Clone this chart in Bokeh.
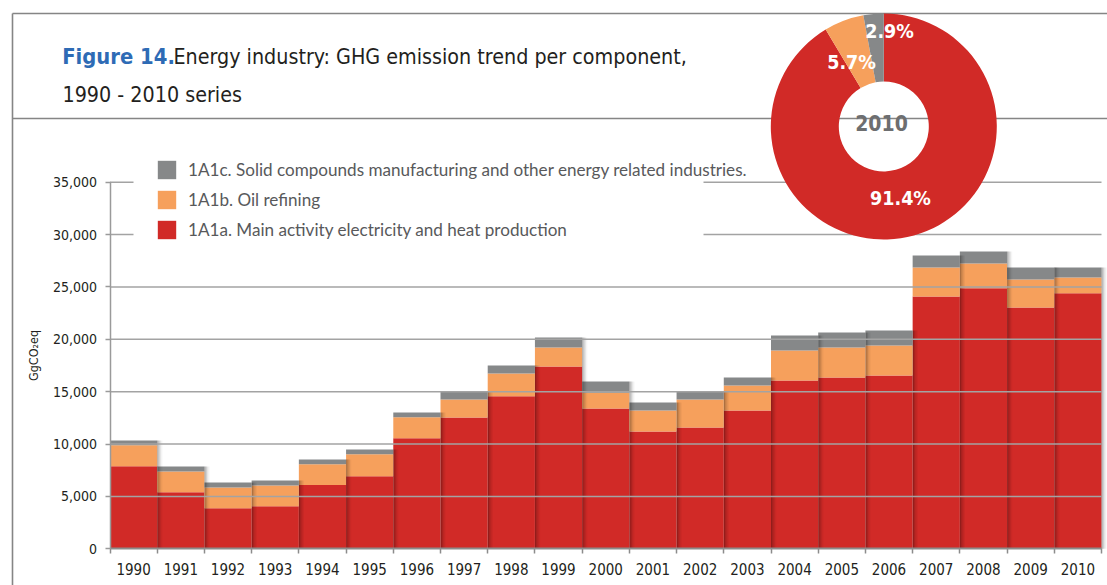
import math
from bokeh.plotting import figure
from bokeh.models import (Range1d, FixedTicker, NumeralTickFormatter, Legend,
                          LegendItem, Label, ColumnDataSource)
from bokeh.embed import file_html
from bokeh.resources import INLINE

# ---------------- data ----------------
years = [str(y) for y in range(1990, 2011)]
main_activity = [7890, 5410, 3880, 4070, 6080, 6930, 10550, 12540, 14570, 17400,
                 13390, 11200, 11580, 13200, 16070, 16350, 16540, 24090, 24880,
                 23040, 24400]
oil_refining = [2000, 1970, 1970, 1970, 2000, 2100, 2000, 1710, 2170, 1820,
                1500, 2000, 2670, 2390, 2860, 2870, 2870, 2760, 2360, 2670, 1500]
solid_other = [450, 480, 480, 480, 440, 450, 460, 770, 760, 950,
               1080, 770, 770, 760, 1430, 1430, 1430, 1150, 1140, 1140, 950]
series_labels = ["1A1a. Main activity electricity and heat production",
                 "1A1b. Oil refining",
                 "1A1c. Solid compounds manufacturing and other energy related industries."]
y_ticks = [0, 5000, 10000, 15000, 20000, 25000, 30000, 35000]
pie_year = "2010"
pie_shares = [91.4, 5.7, 2.9]          # main, oil, solid
pie_labels = ["91.4%", "5.7%", "2.9%"]

# ---------------- style ----------------
RED, ORANGE, GRAY = "#d12a27", "#f6a05c", "#868889"
colors = [RED, ORANGE, GRAY]
NARROW = "'Noto Sans Condensed', 'DejaVu Sans Condensed', Roboto"
DARK = "#231f20"

W, H = 1107, 585
SX = 991.5 / 21.0
X0 = -0.5 - 109.5 / SX
X1 = X0 + W / SX
SY = 366.6 / 35000.0
Y1 = 548.3 / SY
Y0 = Y1 - H / SY


def X(px):
    return X0 + px / SX


def Y(py):
    return Y1 - py / SY


p = figure(width=W, height=H, x_range=Range1d(X0, X1), y_range=Range1d(Y0, Y1),
           output_backend="svg", toolbar_location=None, min_border=0,
           min_border_left=0, min_border_right=0, min_border_top=0, min_border_bottom=0,
           outline_line_color=None, background_fill_color="white",
           border_fill_color="white")
p.xgrid.visible = False
p.ygrid.visible = False

idx = list(range(len(years)))
src = ColumnDataSource(dict(idx=idx, main=main_activity, oil=oil_refining, solid=solid_other))
rs = p.vbar_stack(["main", "oil", "solid"], x="idx", width=1.0, color=colors,
                  line_color=None, source=src)

# bar drop shadows (cast by each bar onto its right neighbour)
totals = [a + b + c for a, b, c in zip(main_activity, oil_refining, solid_other)]
strip = 1.3 / SX
for k, a in enumerate([0.30, 0.19, 0.10, 0.04]):
    p.quad(left=[i + 0.5 + k * strip for i in idx], right=[i + 0.5 + (k + 1) * strip for i in idx],
           bottom=[0] * len(idx), top=totals, fill_color="black", fill_alpha=a, line_color=None)

# grid lines drawn over the bars
gx0, gx1, gy = [], [], []
for t in y_ticks[1:]:
    if t <= 25000:
        gx0.append(-0.5); gx1.append(20.5); gy.append(t)
    else:
        gx0 += [-0.5, X(703)]; gx1 += [X(133), 20.5]; gy += [t, t]
p.segment(x0=gx0, x1=gx1, y0=gy, y1=gy, line_color="#a3a3a3", line_width=1.4)

# frame lines of the figure box
p.segment(x0=[X(12), X(12), X(12)], x1=[X1, X1, X(12)],
          y0=[Y(13), Y(118), Y(13)], y1=[Y(13), Y(118), Y0],
          line_color="#858585", line_width=1.6)

# axes
ya = p.yaxis[0]
ya.fixed_location = -0.5
ya.bounds = (0, 35000)
ya.ticker = FixedTicker(ticks=y_ticks, minor_ticks=[])
ya.formatter = NumeralTickFormatter(format="0,0")
ya.axis_line_color = "#9a9a9a"
ya.axis_line_width = 1.5
ya.major_tick_line_color = "#9a9a9a"
ya.major_tick_line_width = 1.5
ya.major_tick_out = 5
ya.major_tick_in = 0
ya.major_label_standoff = 8
ya.major_label_text_font = NARROW
ya.major_label_text_font_size = "14px"
ya.major_label_text_color = DARK

xa = p.xaxis[0]
xa.fixed_location = 0
xa.bounds = (-0.5, 20.5)
xa.ticker = FixedTicker(ticks=idx, minor_ticks=[i - 0.5 for i in range(len(idx) + 1)])
xa.major_label_overrides = {i: y for i, y in enumerate(years)}
xa.axis_line_color = "#8c8c8c"
xa.axis_line_width = 2
xa.major_tick_line_color = None
xa.major_tick_out = 0
xa.major_tick_in = 0
xa.minor_tick_line_color = "#8c8c8c"
xa.minor_tick_line_width = 1.5
xa.minor_tick_out = 5
xa.minor_tick_in = 0
xa.major_label_standoff = 9
xa.major_label_text_font = NARROW
xa.major_label_text_font_size = "15px"
xa.major_label_text_color = DARK

# legend
legend = Legend(items=[LegendItem(label=series_labels[2], renderers=[rs[2]]),
                       LegendItem(label=series_labels[1], renderers=[rs[1]]),
                       LegendItem(label=series_labels[0], renderers=[rs[0]])],
                location=(155, H - 241), glyph_width=23, glyph_height=23, spacing=7,
                label_standoff=10, padding=0, margin=0, background_fill_alpha=0,
                border_line_color=None, label_text_font="Lato",
                label_text_font_size="17.1px", label_text_color="#58595b")
p.add_layout(legend, "center")

# donut for 2010
cx, cy = X(883.3), Y(126)
start = math.pi / 2
angles = []
for s in reversed(pie_shares):
    end = start + s / sum(pie_shares) * 2 * math.pi
    angles.append((start, end))
    start = end
angles = list(reversed(angles))
p.annular_wedge(x=[cx] * 3, y=[cy] * 3, inner_radius=45, inner_radius_units="screen",
                outer_radius=113, outer_radius_units="screen",
                start_angle=[a[0] for a in angles], end_angle=[a[1] for a in angles],
                fill_color=colors, line_color=None)

pie_label_px = [(900, 198), (851, 62), (889, 31)]
for lbl, (px, py) in zip(pie_labels, pie_label_px):
    p.add_layout(Label(x=X(px), y=Y(py), text=lbl, text_align="center",
                       text_baseline="middle", text_font=NARROW, text_font_style="bold",
                       text_font_size="19.5px", text_color="white"))
p.add_layout(Label(x=X(881), y=Y(122), text=pie_year, text_align="center",
                   text_baseline="middle", text_font=NARROW, text_font_style="bold",
                   text_font_size="21px", text_color="#6d6e70"))

# title
p.add_layout(Label(x=X(61.7), y=Y(56), text="Figure 14.", text_font=NARROW,
                   text_font_style="bold", text_font_size="21.8px", text_color="#2e6bb5",
                   text_baseline="alphabetic"))
p.add_layout(Label(x=X(173), y=Y(56), text="Energy industry: GHG emission trend per component,",
                   text_font=NARROW, text_font_size="21.3px", text_color=DARK,
                   text_baseline="alphabetic"))
p.add_layout(Label(x=X(62), y=Y(94), text="1990 - 2010 series", text_font=NARROW,
                   text_font_size="21.3px", text_color=DARK, text_baseline="alphabetic"))

# y axis title
p.add_layout(Label(x=X(33), y=Y(355), text="GgCO₂eq", angle=math.pi / 2,
                   text_align="center", text_baseline="middle", text_font=NARROW,
                   text_font_size="12.5px", text_color=DARK))

open("out.html", "w").write(file_html(p, INLINE))
